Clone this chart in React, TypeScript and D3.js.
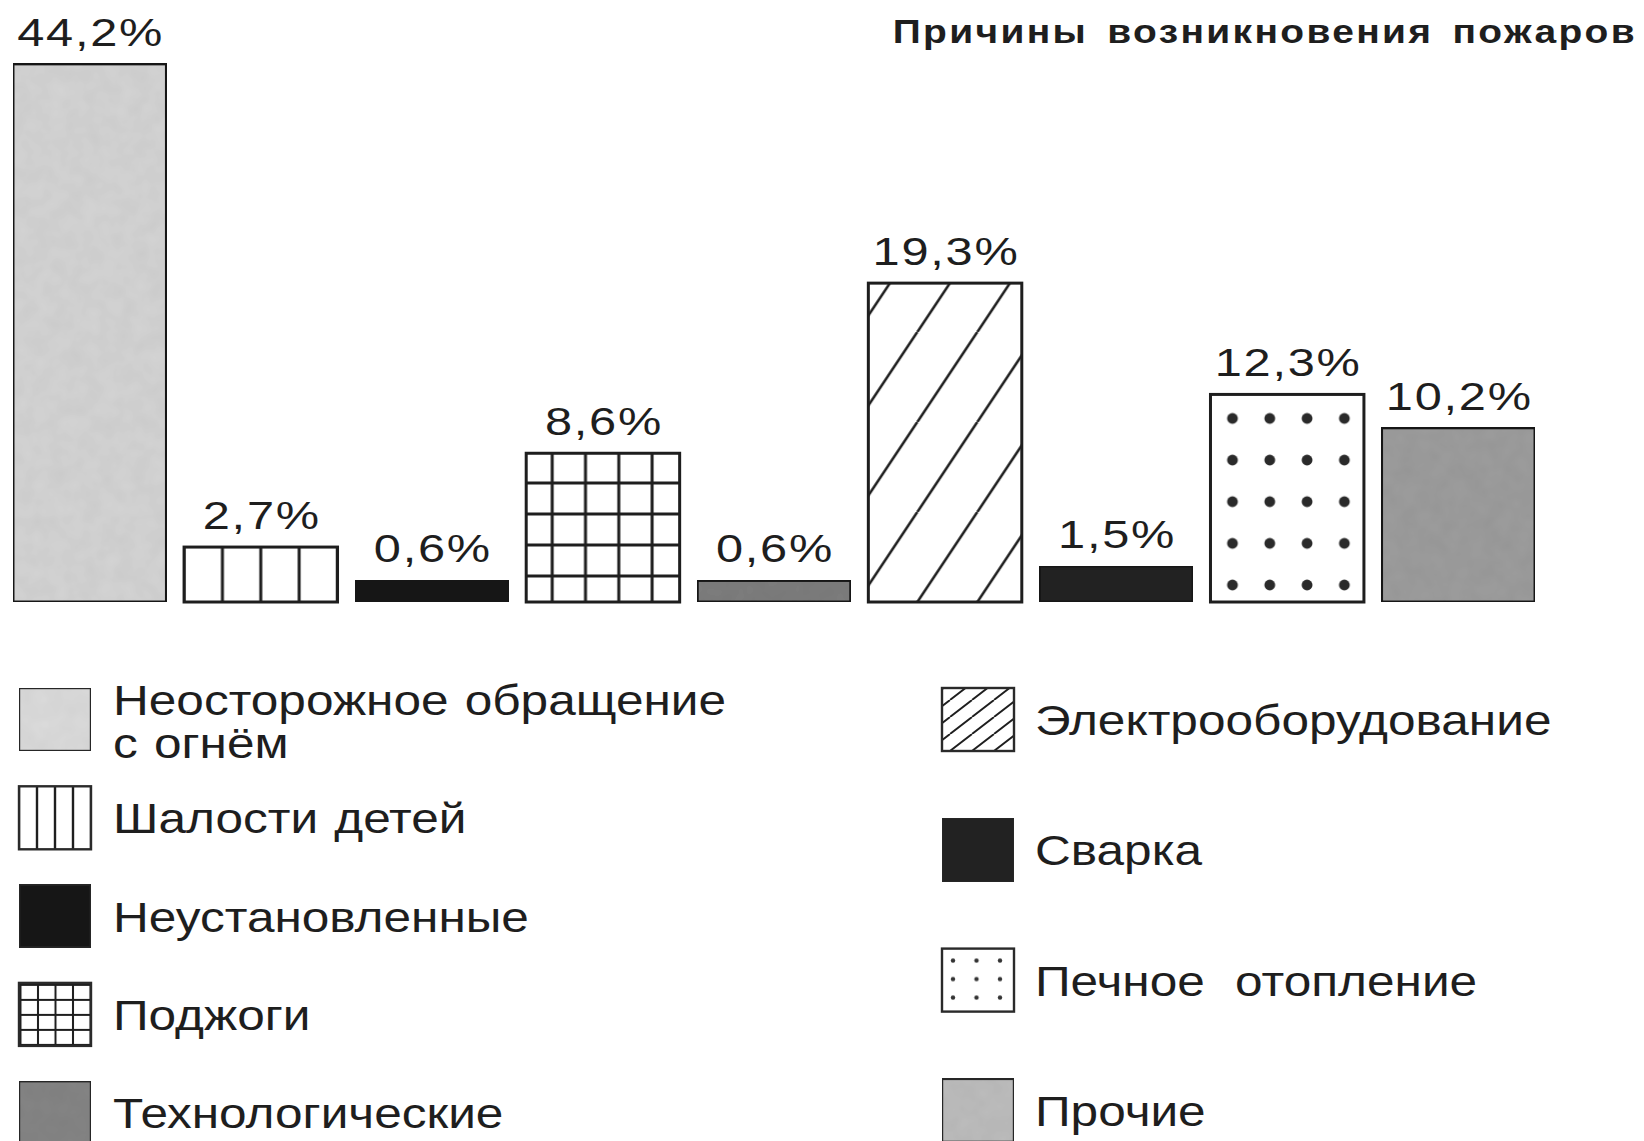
import React from "react";
import * as d3 from "d3";

// ---- data ----
const categories = [
  "Неосторожное обращение с огнём",
  "Шалости детей",
  "Неустановленные",
  "Поджоги",
  "Технологические",
  "Электрооборудование",
  "Сварка",
  "Печное отопление",
  "Прочие",
];
const values = [44.2, 2.7, 0.6, 8.6, 0.6, 19.3, 1.5, 12.3, 10.2];
const legendLabels = [
  ["Неосторожное обращение", "с огнём"],
  ["Шалости детей"],
  ["Неустановленные"],
  ["Поджоги"],
  ["Технологические"],
  ["Электрооборудование"],
  ["Сварка"],
  ["Печное отопление"],
  ["Прочие"],
];
const title = "Причины возникновения пожаров";

// ---- styles ----
const fillKinds = ["solid", "vlines", "solid", "grid", "solid", "hatch", "solid", "dots", "solid"];
const barColors = ["#d4d4d4", "#fff", "#1f1f1f", "#fff", "#7e7e7e", "#fff", "#262626", "#fff", "#9d9d9d"];
const legendColors = ["#dcdcdc", "#fff", "#1f1f1f", "#fff", "#858585", "#fff", "#262626", "#fff", "#bdbdbd"];
const legendWordSpacing = [2, 2, 2, 2, 2, 2, 2, 14, 2];
const INK = "#1e1e1e";
const FONT = "'Liberation Sans', Arial, Helvetica, sans-serif";
const SX = 1.18;

const W = 1644;
const H = 1141;
const BASE = 602;

const fmt = d3.formatLocale({ decimal: ",", thousands: " ", grouping: [3], currency: ["", ""] }).format(".1f");

export default function App() {
  const x = d3.scaleBand<string>().domain(categories).range([13, 1535]).paddingInner(0.103).paddingOuter(0);
  const h = d3.scaleLinear().domain([0, 20, 45]).range([12, 330, 545]);
  const bw = x.bandwidth();

  const legendPos = (i: number) => {
    if (i < 5) return { sx: 19, top: 688 + i * 98.3 };
    return { sx: 942, top: 688 + (i - 5) * 130.3 };
  };
  const SW = 72;
  const SH = 63;

  const barFill = (i: number) => (fillKinds[i] === "solid" ? barColors[i] : `url(#bar-${fillKinds[i]})`);
  const legFill = (i: number) => (fillKinds[i] === "solid" ? legendColors[i] : `url(#leg-${fillKinds[i]})`);

  const idx = (k: string) => fillKinds.indexOf(k);
  const xi = (k: string) => x(categories[idx(k)]) as number;
  const li = (k: string) => legendPos(idx(k));

  const vlX = xi("vlines");
  const gridX = xi("grid");
  const hatchX = xi("hatch");
  const dotsX = xi("dots");
  const dotsH = h(values[idx("dots")]);
  const dotRow = (dotsH - 41) / 4;
  const lvl = li("vlines");
  const lgr = li("grid");
  const lha = li("hatch");
  const ldo = li("dots");

  return (
    <svg
      width={W}
      height={H}
      viewBox={`0 0 ${W} ${H}`}
      style={{ position: "absolute", left: 0, top: 0, background: "#fff" }}
    >
      <defs>
        <filter id="grain" x="0" y="0" width="100%" height="100%">
          <feTurbulence type="fractalNoise" baseFrequency="0.06" numOctaves="2" seed="3" result="n" />
          <feColorMatrix in="n" type="matrix" values="0 0 0 0 0  0 0 0 0 0  0 0 0 0 0  0 0 0 0.10 0" result="a" />
          <feComposite in="a" in2="SourceGraphic" operator="in" result="b" />
          <feMerge>
            <feMergeNode in="SourceGraphic" />
            <feMergeNode in="b" />
          </feMerge>
        </filter>
        {/* bar patterns */}
        <pattern id="bar-vlines" patternUnits="userSpaceOnUse" x={vlX} y={0} width={bw / 4} height={10}>
          <rect width={bw / 4} height={10} fill="#fff" />
          <line x1={0} x2={0} y1={0} y2={10} stroke={INK} strokeWidth={3} />
          <line x1={bw / 4} x2={bw / 4} y1={0} y2={10} stroke={INK} strokeWidth={3} />
        </pattern>
        <pattern id="bar-grid" patternUnits="userSpaceOnUse" x={gridX + 26} y={BASE - 26} width={33.3} height={31}>
          <rect width={33.3} height={31} fill="#fff" />
          <path d="M0,0V31M33.3,0V31M0,0H33.3M0,31H33.3" stroke={INK} strokeWidth={3} />
        </pattern>
        <pattern id="bar-hatch" patternUnits="userSpaceOnUse" x={hatchX + 49} y={BASE} width={60} height={90}>
          <rect width={60} height={90} fill="#fff" />
          <path d="M0,90L60,0M-60,90L0,0M60,90L120,0" stroke={INK} strokeWidth={2.6} />
        </pattern>
        <pattern
          id="bar-dots"
          patternUnits="userSpaceOnUse"
          x={dotsX + 22 - 18.65}
          y={BASE - 17 - dotRow / 2}
          width={37.3}
          height={dotRow}
        >
          <rect width={37.3} height={dotRow} fill="#fff" />
          <circle cx={18.65} cy={dotRow / 2} r={5.4} fill="#2a2a2a" />
        </pattern>
        {/* legend patterns */}
        <pattern id="leg-vlines" patternUnits="userSpaceOnUse" x={lvl.sx} y={0} width={SW / 4} height={10}>
          <rect width={SW / 4} height={10} fill="#fff" />
          <line x1={0} x2={0} y1={0} y2={10} stroke={INK} strokeWidth={2.4} />
          <line x1={SW / 4} x2={SW / 4} y1={0} y2={10} stroke={INK} strokeWidth={2.4} />
        </pattern>
        <pattern id="leg-grid" patternUnits="userSpaceOnUse" x={lgr.sx + 19} y={lgr.top + 17} width={17.5} height={15}>
          <rect width={17.5} height={15} fill="#fff" />
          <path d="M0,0V15M17.5,0V15M0,0H17.5M0,15H17.5" stroke={INK} strokeWidth={2} />
        </pattern>
        <pattern id="leg-hatch" patternUnits="userSpaceOnUse" x={lha.sx + 8} y={lha.top + SH} width={22} height={17}>
          <rect width={22} height={17} fill="#fff" />
          <path d="M0,17L22,0M-22,17L0,0M22,17L44,0" stroke={INK} strokeWidth={1.9} />
        </pattern>
        <pattern id="leg-dots" patternUnits="userSpaceOnUse" x={ldo.sx + 11 - 11.75} y={ldo.top + 12 - 9.25} width={23.5} height={18.5}>
          <rect width={23.5} height={18.5} fill="#fff" />
          <circle cx={11.75} cy={9.25} r={2.2} fill="#333" />
        </pattern>
      </defs>

      {/* title */}
      <text
        transform={`translate(1637,43) scale(${SX},1)`}
        textAnchor="end"
        fontFamily={FONT}
        fontWeight="bold"
        fontSize={33}
        fill={INK}
        wordSpacing={5}
        letterSpacing={2}
      >
        {title}
      </text>

      {/* bars */}
      {categories.map((c, i) => (
        <g key={c}>
          <rect
            x={x(c)}
            y={BASE - h(values[i])}
            width={bw}
            height={h(values[i])}
            fill={barFill(i)}
            stroke={INK}
            strokeWidth={3}
            filter={fillKinds[i] === "solid" ? "url(#grain)" : undefined}
          />
          <text
            transform={`translate(${(x(c) as number) + bw / 2 + 1},${BASE - h(values[i]) - 18}) scale(1.25,1)`}
            textAnchor="middle"
            fontFamily={FONT}
            fontSize={39}
            fill={INK}
            letterSpacing={1.4}
          >
            {fmt(values[i]) + "%"}
          </text>
        </g>
      ))}

      {/* legend */}
      {categories.map((c, i) => {
        const p = legendPos(i);
        const lines = legendLabels[i];
        const tx = p.sx + (i < 5 ? 94 : 93);
        const firstBase = lines.length > 1 ? p.top + 27 : p.top + 47;
        return (
          <g key={"l" + c}>
            <rect
              x={p.sx}
              y={p.top}
              width={SW}
              height={SH}
              fill={legFill(i)}
              stroke="#2a2a2a"
              strokeWidth={2.4}
              filter={fillKinds[i] === "solid" ? "url(#grain)" : undefined}
            />
            {lines.map((ln, k) => (
              <text
                key={k}
                transform={`translate(${tx},${firstBase + k * 43}) scale(${SX},1)`}
                fontFamily={FONT}
                fontSize={42}
                fill={INK}
                wordSpacing={legendWordSpacing[i]}
              >
                {ln}
              </text>
            ))}
          </g>
        );
      })}
    </svg>
  );
}
